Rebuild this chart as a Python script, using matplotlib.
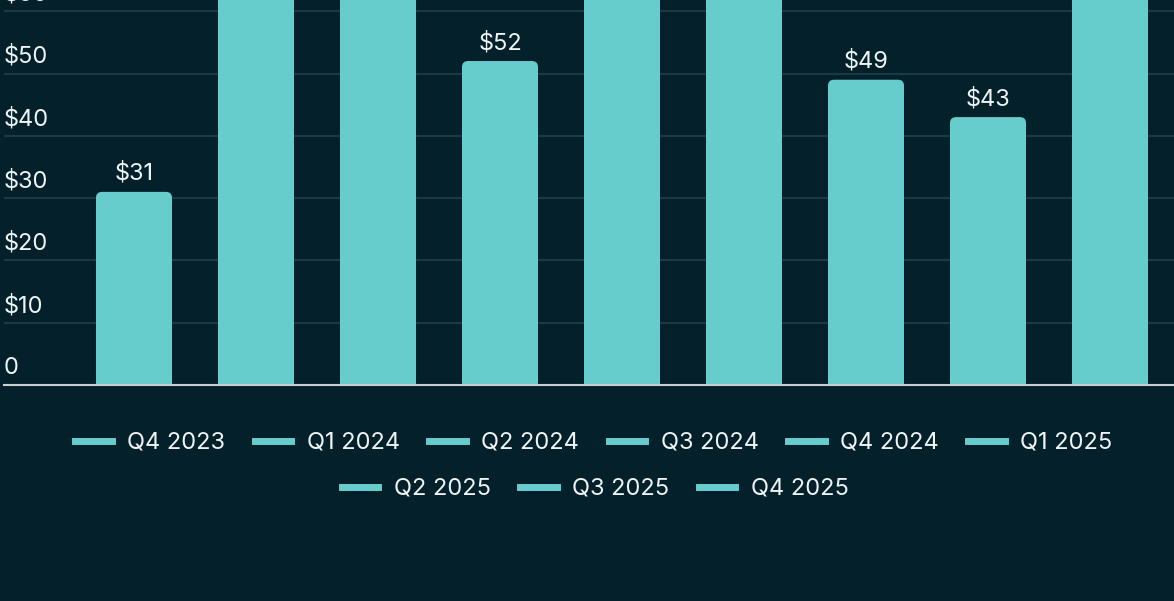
import matplotlib.pyplot as plt
from matplotlib.lines import Line2D
from matplotlib.patches import FancyBboxPatch

quarters = ["Q4 2023", "Q1 2024", "Q2 2024", "Q3 2024", "Q4 2024",
            "Q1 2025", "Q2 2025", "Q3 2025", "Q4 2025"]
# tall bars run off the top of the picture, their values are estimates
values = [31, 72, 68, 52, 64, 70, 49, 43, 75]
yticks = [0, 10, 20, 30, 40, 50, 60]
ytick_labels = ["0", "$10", "$20", "$30", "$40", "$50", "$60"]

bg = "#03202b"
bar_color = "#66cdcc"
grid_color = "#1b3a45"
text_color = "#eef4f4"

plt.rcParams['font.family'] = ['Inter', 'DejaVu Sans']

fig = plt.figure(figsize=(11.74, 6.01), dpi=100, facecolor=bg)
ax = fig.add_axes([4 / 1174, 216 / 601, 1 - 4 / 1174, 1 - 216 / 601])
ax.set_facecolor(bg)

xs = list(range(len(quarters)))
bars = ax.bar(xs, values, width=76 / 122, color=bar_color, zorder=3)

ax.set_xlim(-130 / 122, 8 + 64 / 122)
ax.set_ylim(0, 385 / 6.23)

# rounded tops: swap each rectangle for a rounded box that starts below 0
x_per_px = 1 / 122
y_per_px = 10 / 62.3
for rect in bars:
    x, w, h = rect.get_x(), rect.get_width(), rect.get_height()
    rect.set_visible(False)
    r = FancyBboxPatch((x, -2), w, h + 2,
                       boxstyle=f"round,pad=0,rounding_size={6 * x_per_px}",
                       mutation_aspect=y_per_px / x_per_px,
                       fc=bar_color, ec="none", zorder=3)
    ax.add_patch(r)

fs = 17
for i, v in enumerate(values):
    ax.annotate(f"${v}", (xs[i], v), xytext=(0, 5), textcoords="offset points",
                ha="center", va="bottom", fontsize=fs, color=text_color, zorder=4)

# gridlines + labels sitting above them on the left
ax.set_yticks(yticks)
ax.yaxis.grid(True, color=grid_color, lw=1.5, zorder=0)
ax.set_yticklabels([])
ax.tick_params(axis="both", length=0, labelbottom=False, labelleft=False)
for t, lab in zip(yticks, ytick_labels):
    ax.annotate(lab, (0, t), xycoords=("axes fraction", "data"),
                xytext=(0, 4), textcoords="offset points",
                ha="left", va="bottom", fontsize=fs, color=text_color)

for s in ["top", "right", "left"]:
    ax.spines[s].set_visible(False)
ax.spines["bottom"].set_color("#c9cfd2")
ax.spines["bottom"].set_linewidth(1.5)
ax.spines["bottom"].set_zorder(5)

handles = [Line2D([], [], color=bar_color, lw=5) for _ in quarters]
leg_kw = dict(frameon=False, fontsize=fs, labelcolor=text_color,
              handlelength=1.55, handletextpad=0.65, columnspacing=1.25,
              loc="center")
leg1 = fig.legend(handles[:6], quarters[:6], ncol=6,
                  bbox_to_anchor=(594 / 1174, 158 / 601), **leg_kw)
leg2 = fig.legend(handles[6:], quarters[6:], ncol=3,
                  bbox_to_anchor=(595 / 1174, 112 / 601), **leg_kw)

fig.savefig("out.png", dpi=100, facecolor=bg)
